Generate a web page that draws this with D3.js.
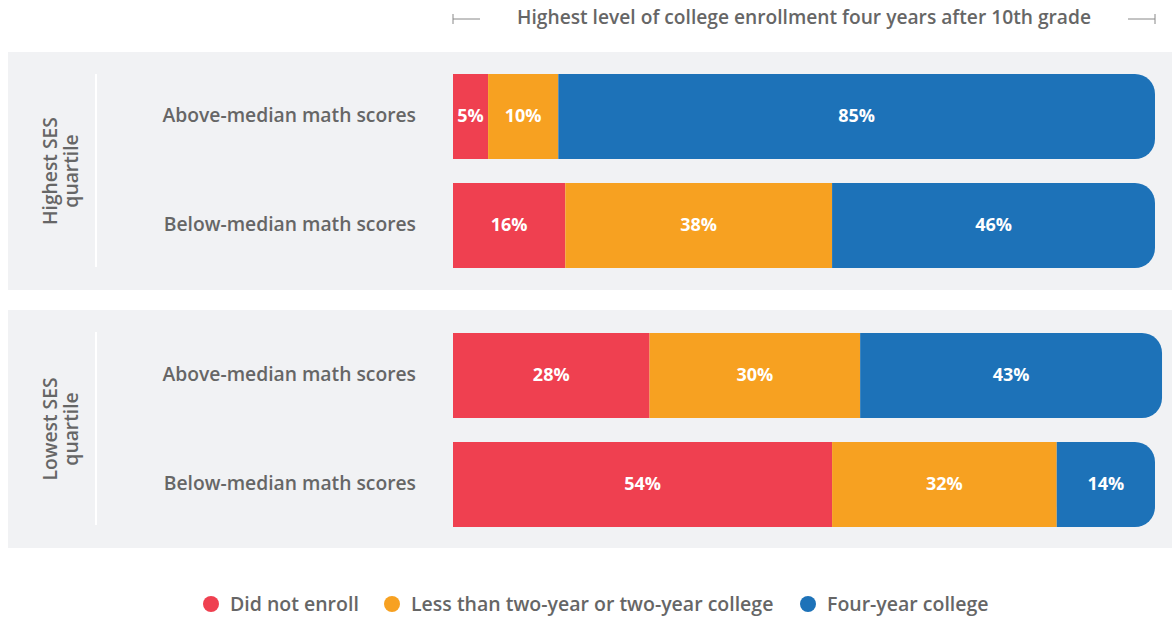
<!DOCTYPE html>
<html><head><meta charset="utf-8">
<script src="https://cdn.jsdelivr.net/npm/d3@7"></script>
<style>body{margin:0;background:#fff}svg{display:block;font-family:"Open Sans",sans-serif}</style>
</head><body><svg id="c" width="1172" height="618"></svg>
<script>
const groups = ["Highest SES quartile", "Lowest SES quartile"];
const rows = ["Above-median math scores", "Below-median math scores", "Above-median math scores", "Below-median math scores"];
const series = ["Did not enroll", "Less than two-year or two-year college", "Four-year college"];
const didNotEnroll = [5, 16, 28, 54];
const twoYear = [10, 38, 30, 32];
const fourYear = [85, 46, 43, 14];
const colors = ["#EF4050", "#F7A121", "#1D72B8"];
const title = "Highest level of college enrollment four years after 10th grade";

const svg = d3.select("#c");
const x = d3.scaleLinear().domain([0, 100]).range([453, 1155]);
const rowY = i => [74, 183, 333, 442][i];
const bh = 85;

const panels = [{y0: 52, y1: 290}, {y0: 310, y1: 548}];
panels.forEach((p, gi) => {
  svg.append("rect").attr("x", 8).attr("y", p.y0).attr("width", 1164).attr("height", p.y1 - p.y0).attr("fill", "#F1F2F4");
  svg.append("line").attr("x1", 96).attr("x2", 96).attr("y1", p.y0 + 22).attr("y2", p.y1 - 23).attr("stroke", "#fff").attr("stroke-width", 2);
  const cy = (p.y0 + p.y1) / 2;
  const words = groups[gi].split(" ");
  const t = svg.append("text").attr("transform", `translate(62,${cy}) rotate(-90)`).attr("text-anchor", "middle")
    .attr("fill", "#666").attr("font-size", 19.3).attr("font-weight", 600);
  t.append("tspan").attr("x", 0).attr("dy", "-0.25em").text(words.slice(0, 2).join(" "));
  t.append("tspan").attr("x", 0).attr("dy", "1.1em").text(words.slice(2).join(" "));
});

const stack = rows.map((r, i) => {
  const vals = [didNotEnroll[i], twoYear[i], fourYear[i]];
  let acc = 0;
  return vals.map((v, k) => { const s = {row: i, k, v, x0: acc, x1: acc + v}; acc += v; return s; });
});

rows.forEach((r, i) => {
  svg.append("text").attr("x", 416).attr("y", rowY(i) + bh / 2).attr("dominant-baseline", "middle")
    .attr("text-anchor", "end").attr("fill", "#666").attr("font-size", 19.3).attr("font-weight", 600).text(r);
  stack[i].forEach(s => {
    const x0 = x(s.x0), x1 = x(s.x1), y0 = rowY(i);
    let path;
    if (s.k === 2) {
      const rr = 20;
      path = `M${x0},${y0}H${x1 - rr}A${rr},${rr} 0 0 1 ${x1},${y0 + rr}V${y0 + bh - rr}A${rr},${rr} 0 0 1 ${x1 - rr},${y0 + bh}H${x0}Z`;
    } else {
      path = `M${x0},${y0}H${x1}V${y0 + bh}H${x0}Z`;
    }
    svg.append("path").attr("d", path).attr("fill", colors[s.k]);
    svg.append("text").attr("x", (x0 + x1) / 2).attr("y", y0 + bh / 2 + 1).attr("dominant-baseline", "middle")
      .attr("text-anchor", "middle").attr("fill", "#fff").attr("font-size", 18).attr("font-weight", 700).text(s.v + "%");
  });
});

svg.append("text").attr("x", 804).attr("y", 19).attr("dominant-baseline", "middle").attr("text-anchor", "middle")
  .attr("fill", "#666").attr("font-size", 19.2).attr("font-weight", 600).text(title);
const hc = "#888";
svg.append("line").attr("x1", x(0)).attr("x2", x(0) + 27).attr("y1", 19).attr("y2", 19).attr("stroke", hc);
svg.append("line").attr("x1", x(0)).attr("x2", x(0)).attr("y1", 14).attr("y2", 24).attr("stroke", hc);
svg.append("line").attr("x1", x(100) - 27).attr("x2", x(100)).attr("y1", 19).attr("y2", 19).attr("stroke", hc);
svg.append("line").attr("x1", x(100)).attr("x2", x(100)).attr("y1", 14).attr("y2", 24).attr("stroke", hc);

const lx = [211, 392, 808];
series.forEach((s, i) => {
  svg.append("circle").attr("cx", lx[i]).attr("cy", 604).attr("r", 8).attr("fill", colors[i]);
  svg.append("text").attr("x", lx[i] + 19).attr("y", 606).attr("dominant-baseline", "middle")
    .attr("fill", "#666").attr("font-size", 19.5).attr("font-weight", 600).text(s);
});
</script></body></html>
